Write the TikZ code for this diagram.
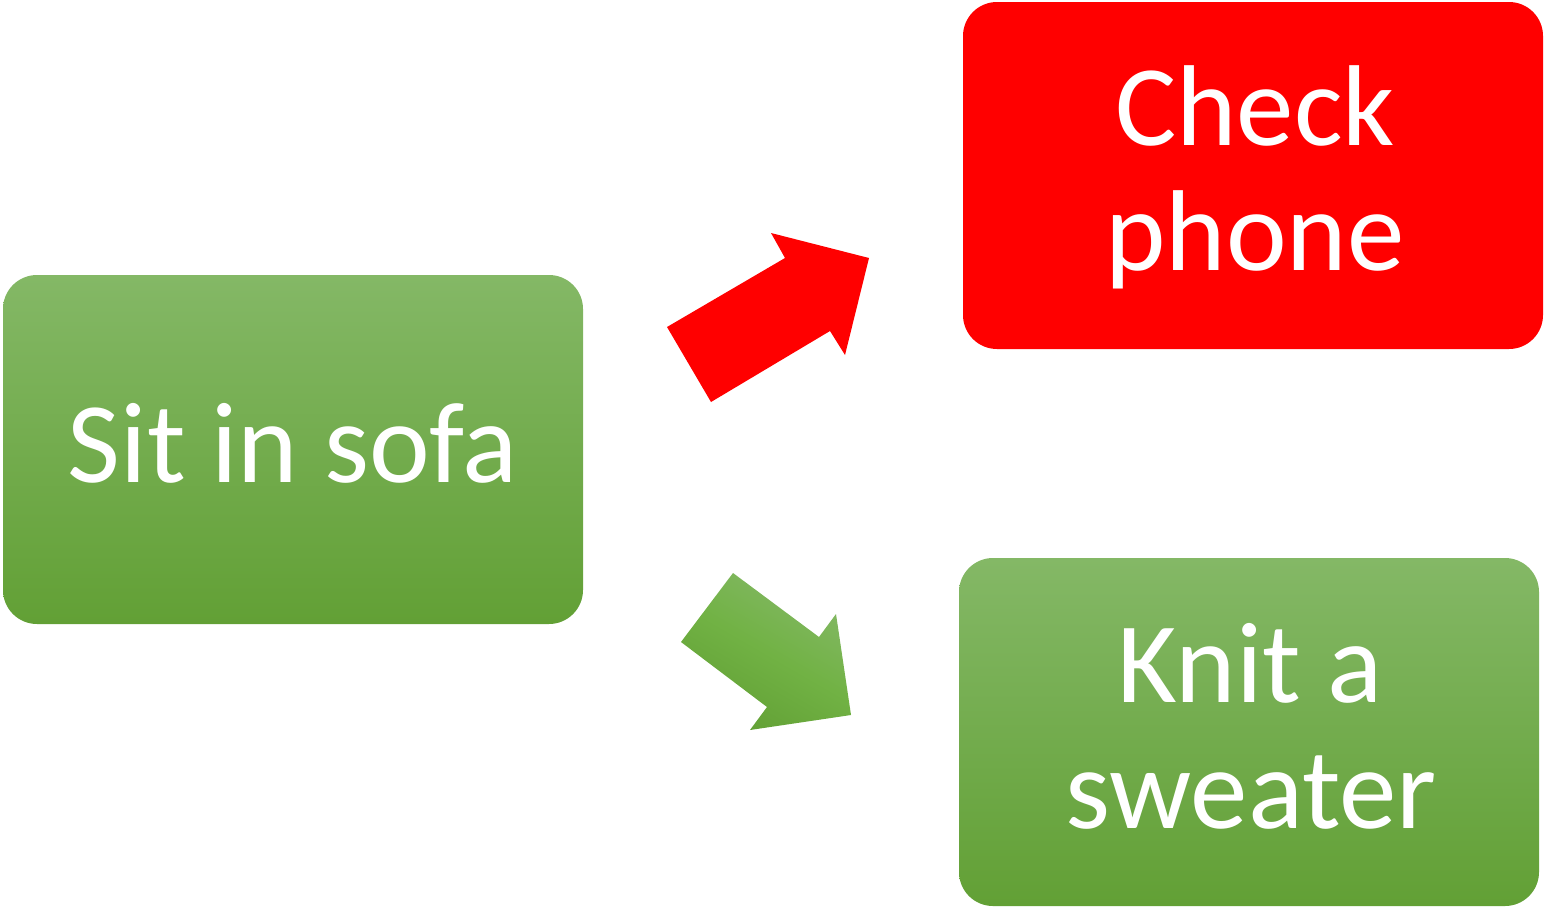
\documentclass[tikz,border=0pt]{standalone}
\usepackage{fontspec}
\setmainfont{Carlito}
\definecolor{gtop}{HTML}{84B866}
\definecolor{gmid}{HTML}{71B244}
\definecolor{gbot}{HTML}{62A035}
\definecolor{redbox}{HTML}{FF0000}
\tikzset{
  box/.style={rectangle, rounded corners=34pt, minimum width=580pt, inner sep=0pt, draw=none},
  greenbox/.style={box, top color=gtop, middle color=gmid, bottom color=gbot},
  redfill/.style={box, fill=redbox},
  lbl/.style={text=white, font=\fontsize{115}{125}\selectfont, inner sep=0pt},
}
\begin{document}
\begin{tikzpicture}[x=1pt,y=-1pt]
\useasboundingbox (0,0) rectangle (1546,908);
\node[greenbox, minimum height=349pt] (sit) at (293,449.5) {};
\node[redfill, minimum height=347pt] (check) at (1253,175.5) {};
\node[greenbox, minimum height=348pt] (knit) at (1249,732) {};
\node[lbl, anchor=base] (t1) at (293,482) {Sit in sofa};
\node[lbl, anchor=base] (t2) at (1255,145) {Check};
\node[lbl, anchor=base] (t3) at (1255,270) {phone};
\node[lbl, anchor=base] (t4) at (1250,702) {Knit a};
\node[lbl, anchor=base] (t5) at (1251,828) {sweater};
% red block arrow
\fill[redbox] (667,327) -- (785,258) -- (771,233) -- (869,258) -- (845,355) -- (830,331) -- (711,402) -- cycle;
% green block arrow
\shade[top color=gtop, bottom color=gbot, middle color=gmid, shading angle=-30]
  (733,573) -- (819,637) -- (836,614) -- (851,715) -- (750,730) -- (767,707) -- (681,642) -- cycle;
\end{tikzpicture}
\end{document}
